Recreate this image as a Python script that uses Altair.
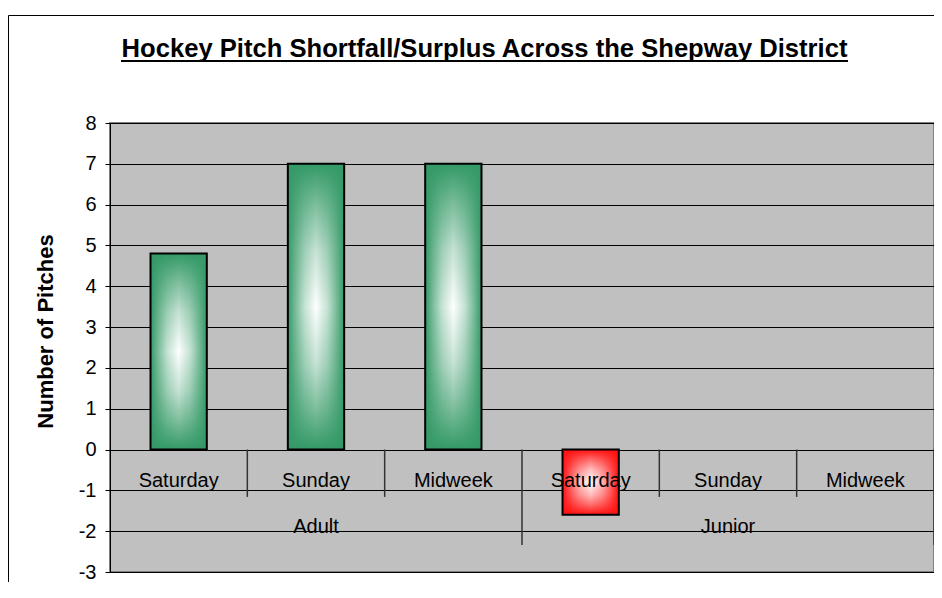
import altair as alt
import pandas as pd

# ---- data ----
groups = ["Adult", "Adult", "Adult", "Junior", "Junior", "Junior"]
days = ["Saturday", "Sunday", "Midweek", "Saturday", "Sunday", "Midweek"]
values = [4.8, 7.0, 7.0, -1.6, 0.0, 0.0]
group_names = ["Adult", "Junior"]
y_ticks = [-3, -2, -1, 0, 1, 2, 3, 4, 5, 6, 7, 8]
title_text = "Hockey Pitch Shortfall/Surplus Across the Shepway District"
y_title = "Number of Pitches"

keys = [f"{g} {d}" for g, d in zip(groups, days)]
df = pd.DataFrame({"key": keys, "group": groups, "day": days, "value": values})

# separators: at the right edge of each category; group ends are long
sep_bot = [-2.34 if (i + 1) % 3 == 0 else -1.16 for i in range(len(keys))]
sep_df = pd.DataFrame({"b": list(range(1, len(keys) + 1)), "top": [0] * len(keys), "bot": sep_bot})

grp_df = pd.DataFrame({"key": [keys[1], keys[4]], "group": group_names})

PAD = 0.59

GREEN = (51, 153, 102)
RED = (255, 16, 16)

# gradient profile: (offset from edge, strength of colour)
PROFILE = [(0.0, 1.0), (0.15, 0.62), (0.3, 0.28), (0.5, 0.0)]


def mix(c, s):
    return tuple(round(s * v + (1 - s) * 255) for v in c)


def rgba(c, a=1.0):
    return f"rgba({c[0]},{c[1]},{c[2]},{a})"


def stops_sym(fn):
    out = [{"offset": o, "color": fn(s)} for o, s in PROFILE]
    out += [{"offset": 1 - o, "color": fn(s)} for o, s in reversed(PROFILE[:-1])]
    return out


def grad_v(c):
    return {"gradient": "linear", "x1": 0, "y1": 0, "x2": 0, "y2": 1,
            "stops": stops_sym(lambda s: rgba(mix(c, s)))}


def grad_h(c):
    return {"gradient": "linear", "x1": 0, "y1": 0, "x2": 1, "y2": 0,
            "stops": stops_sym(lambda s: rgba(c, s))}


xscale = alt.Scale(domain=keys, paddingInner=PAD, paddingOuter=PAD / 2)
yscale = alt.Scale(domain=[-3, 8], nice=False, zero=False)

y_axis = alt.Axis(values=y_ticks, grid=True, gridColor="black", gridWidth=1,
                  domainColor="black", domainWidth=1, tickColor="black", tickSize=5,
                  labelFontSize=20, labelColor="black", labelPadding=9,
                  labelExpr="'' + datum.value",
                  title=y_title, titleFontSize=22, titleFontWeight="bold",
                  titleColor="black", titleX=-65, titleY=208, titleAngle=270,
                  titleAlign="center", titleBaseline="middle")

x_enc = alt.X("key:N", scale=xscale, axis=None, sort=keys)
y_enc = alt.Y("value:Q", scale=yscale, axis=y_axis)

base = alt.Chart(df)


def bars(test, c):
    v = base.transform_filter(test).mark_bar(fill=grad_v(c), strokeWidth=0).encode(x=x_enc, y=y_enc)
    h = base.transform_filter(test).mark_bar(fill=grad_h(c), stroke="black", strokeWidth=2).encode(x=x_enc, y=y_enc)
    return [v, h]


seps = alt.Chart(sep_df).mark_rule(color="#333333", strokeWidth=1.5).encode(
    x=alt.X("b:Q", scale=alt.Scale(domain=[0, len(keys)], nice=False, zero=False), axis=None),
    y=alt.Y("top:Q", scale=yscale, axis=y_axis),
    y2="bot:Q",
)

day_labels = base.mark_text(fontSize=20, baseline="alphabetic", align="center", color="black").encode(
    x=x_enc, y=alt.value(364), text="day:N")

grp_labels = alt.Chart(grp_df).mark_text(fontSize=20, baseline="alphabetic", align="center", color="black").encode(
    x=alt.X("key:N", scale=xscale, axis=None, sort=keys), y=alt.value(410), text="group:N")

title = alt.Chart(pd.DataFrame({"t": [title_text]})).mark_text(
    fontSize=25.6, fontWeight="bold", align="center", baseline="alphabetic", color="black").encode(
    x=alt.value(374.5), y=alt.value(-66), text="t:N")

underline = alt.Chart(pd.DataFrame({"a": [0]})).mark_rule(color="black", strokeWidth=2).encode(
    x=alt.value(11), x2=alt.value(738), y=alt.value(-62))

border = alt.Chart(pd.DataFrame({"a": [0]})).mark_rect(fillOpacity=0, stroke="black", strokeWidth=1).encode(
    x=alt.value(-101.5), y=alt.value(-107.5), x2=alt.value(1000), y2=alt.value(1000))

main = alt.layer(*(bars("datum.value > 0", GREEN) + bars("datum.value < 0", RED) + [day_labels, grp_labels]))

layers = [border, main, seps, title, underline]

chart = alt.layer(*layers).resolve_scale(x="independent").properties(
    width=824, height=449,
    padding={"left": 102, "top": 115, "right": 0, "bottom": 10},
    autosize=alt.AutoSizeParams(type="none"),
).configure(font="Liberation Sans", background="white").configure_view(
    fill="#C0C0C0", stroke="#808080", strokeWidth=2)

chart.save("out.html", embed_options={"renderer": "svg", "actions": False})
